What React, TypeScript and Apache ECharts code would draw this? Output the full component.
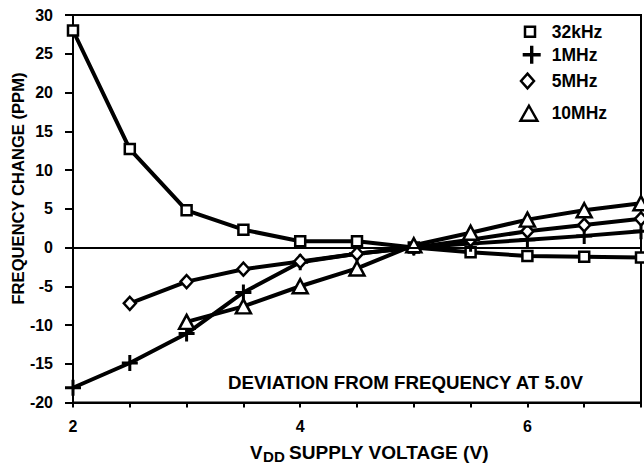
import React, { useEffect, useRef } from "react";
import * as echarts from "echarts";

const voltages = [2, 2.5, 3, 3.5, 4, 4.5, 5, 5.5, 6, 6.5, 7];
const xTickLabels = [2, 4, 6];
const seriesNames = ["32kHz", "1MHz", "5MHz", "10MHz"];
const khz32 = [28.0, 12.7, 4.8, 2.3, 0.8, 0.8, 0, -0.6, -1.1, -1.2, -1.3];
const mhz1 = [-18.1, -14.9, -11.1, -5.8, -1.9, -0.8, 0, 0.5, 1.0, 1.5, 2.1];
const mhz5 = [null, -7.2, -4.4, -2.8, -1.8, -0.8, 0, 1.0, 2.1, 2.9, 3.7];
const mhz10 = [null, null, -9.6, -7.6, -5.0, -2.7, 0.3, 1.9, 3.6, 4.8, 5.7];
const yTitle = "FREQUENCY CHANGE (PPM)";
const note = "DEVIATION FROM FREQUENCY AT 5.0V";

const FONT = "Arial, 'Liberation Sans', Helvetica, sans-serif";
const PLUS = "path://M6.5,0H9.5V6.5H16V9.5H9.5V16H6.5V9.5H0V6.5H6.5Z";
const SQUARE = "path://M0,0H10V10H0Z";
const DIAMOND = "path://M7,0L14,8L7,16L0,8Z";
const TRIANGLE = "path://M9,0L18,16H0Z";

function pairs(vals: (number | null)[]) {
  const out: number[][] = [];
  vals.forEach((v, i) => {
    if (v !== null) out.push([voltages[i], v]);
  });
  return out;
}

const hollow = { color: "#fff", borderColor: "#000", borderWidth: 2.5 };

export default function App() {
  const ref = useRef<HTMLDivElement>(null);
  useEffect(() => {
    if (!ref.current) return;
    const chart = echarts.init(ref.current, undefined, { renderer: "svg" });
    const textBase = { fontFamily: FONT, fontWeight: 700, color: "#000" };
    const gText = (
      text: string,
      x: number,
      y: number,
      size: number,
      scaleX = 1,
      rotation = 0,
      align = "left"
    ) => ({
      type: "text",
      x,
      y,
      rotation,
      scaleX,
      style: {
        text,
        fontFamily: FONT,
        fontWeight: 700,
        fontSize: size,
        fill: "#000",
        align,
        verticalAlign: "middle",
      },
    });
    const mkLegend = (
      name: string,
      icon: string,
      left: number,
      top: number,
      w: number,
      h: number,
      pad: number[],
      itemStyle: any
    ) => ({
      orient: "vertical",
      left,
      top,
      padding: 0,
      itemWidth: w,
      itemHeight: h,
      selectedMode: false,
      data: [{ name, icon, itemStyle }],
      textStyle: { ...textBase, fontSize: 17.5, padding: pad },
    });
    const lineStyle = { color: "#000", width: 4 };
    chart.setOption({
      animation: false,
      backgroundColor: "#fff",
      textStyle: { fontFamily: FONT, fontWeight: 700 },
      grid: {
        left: 73,
        right: 1,
        top: 15,
        bottom: 65.5,
        show: true,
        borderColor: "#000",
        borderWidth: 2,
        containLabel: false,
      },
      legend: [
        mkLegend(seriesNames[0], SQUARE, 523.75, 22.7, 10, 10, [0, 0, 11, 11.7], hollow),
        mkLegend(seriesNames[1], PLUS, 522.7, 45.7, 18, 18, [0, 0, 13, 6], { color: "#000", borderWidth: 0 }),
        mkLegend(seriesNames[2], DIAMOND, 519.75, 72, 13, 15, [0, 0, 7, 12.7], hollow),
        mkLegend(seriesNames[3], TRIANGLE, 519.25, 104.25, 17, 15, [0, 0, 0, 9.2], hollow),
      ],
      xAxis: {
        type: "value",
        min: 2,
        max: 7,
        interval: 0.5,
        axisLine: { show: true, onZero: false, lineStyle: { color: "#000", width: 2 } },
        axisTick: { show: true, length: 5, lineStyle: { color: "#000", width: 2 } },
        axisLabel: {
          ...textBase,
          fontSize: 16,
          margin: 16,
          formatter: (v: number) => (xTickLabels.includes(v) ? String(v) : ""),
        },
        splitLine: { show: false },
      },
      yAxis: {
        type: "value",
        min: -20,
        max: 30,
        interval: 5,
        axisLine: { show: true, lineStyle: { color: "#000", width: 2 } },
        axisTick: { show: true, length: 8, lineStyle: { color: "#000", width: 2 } },
        axisLabel: { ...textBase, fontSize: 16, margin: 20 },
        splitLine: { show: false },
      },
      graphic: [
        gText(yTitle, 18, 188.5, 16.6, 1, Math.PI / 2, "center"),
        gText(note, 228, 382.5, 18, 1.04),
        gText("V", 250, 453, 18, 1.04),
        gText("DD", 263, 457.5, 14.5, 1.04),
        gText("SUPPLY VOLTAGE (V)", 289, 453, 18, 1.06),
      ],
      series: [
        {
          name: seriesNames[0],
          type: "line",
          data: pairs(khz32),
          symbol: "rect",
          symbolSize: 10,
          itemStyle: hollow,
          lineStyle,
          silent: true,
          emphasis: { disabled: true },
          markLine: {
            silent: true,
            symbol: ["none", "none"],
            label: { show: false },
            lineStyle: { color: "#000", width: 2, type: "solid" },
            data: [{ yAxis: 0 }],
          },
        },
        {
          name: seriesNames[1],
          type: "line",
          data: pairs(mhz1),
          symbol: PLUS,
          symbolSize: 16,
          itemStyle: { color: "#000", borderWidth: 0 },
          lineStyle,
          silent: true,
          emphasis: { disabled: true },
        },
        {
          name: seriesNames[2],
          type: "line",
          data: pairs(mhz5),
          symbol: "diamond",
          symbolSize: [12, 13],
          itemStyle: hollow,
          lineStyle,
          silent: true,
          emphasis: { disabled: true },
        },
        {
          name: seriesNames[3],
          type: "line",
          data: pairs(mhz10),
          symbol: "triangle",
          symbolSize: [15, 14],
          itemStyle: hollow,
          lineStyle,
          silent: true,
          emphasis: { disabled: true },
        },
      ],
    });
    return () => chart.dispose();
  }, []);
  return (
    <div
      ref={ref}
      style={{ position: "absolute", left: 0, top: 0, width: 644, height: 468, background: "#fff" }}
    />
  );
}
